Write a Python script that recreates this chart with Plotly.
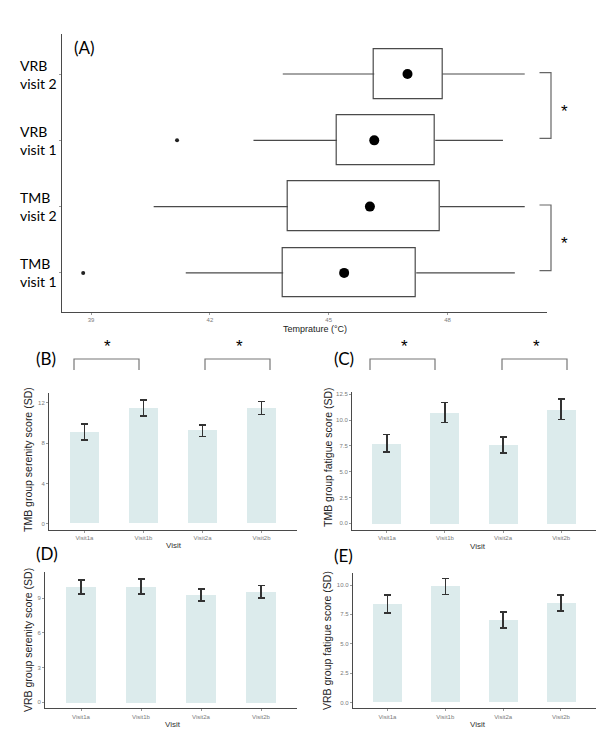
import plotly.graph_objects as go

# The page body has an 8px default margin, so the figure is sized/offset to compensate.
OFF = 8
W, H = 613 - OFF, 736 - OFF


def px(x):
    return (x - OFF) / W


def py(y):
    return 1 - (y - OFF) / H


# ---------------- Panel A data ----------------
groups = ["TMB<br>visit 1", "TMB<br>visit 2", "VRB<br>visit 1", "VRB<br>visit 2"]
group_pos = [0, 1, 2, 3]
lower_whisker = [41.39, 40.58, 43.10, 43.84]
q1 = [43.85, 43.97, 45.21, 46.15]
q3 = [47.21, 47.81, 47.69, 47.87]
upper_whisker = [49.70, 49.95, 49.40, 49.95]
mean_temp = [45.39, 46.04, 46.15, 46.99]
outlier_group = [0, 2]
outlier_temp = [38.80, 41.17]
temp_ticks = [39, 42, 45, 48]

# ---------------- Panels B-E data ----------------
visits = ["Visit1a", "Visit1b", "Visit2a", "Visit2b"]
tmb_serenity = [9.12, 11.50, 9.25, 11.50]
tmb_serenity_sd = [0.80, 0.80, 0.58, 0.63]
tmb_fatigue = [7.75, 10.72, 7.60, 11.05]
tmb_fatigue_sd = [0.85, 0.97, 0.78, 1.00]
vrb_serenity = [9.95, 10.00, 9.26, 9.54]
vrb_serenity_sd = [0.60, 0.65, 0.53, 0.52]
vrb_fatigue = [8.39, 9.86, 7.03, 8.45]
vrb_fatigue_sd = [0.77, 0.68, 0.67, 0.68]

LINE = "#4a4a4a"
BAR = "#dcebec"
TICKC = "#7a7a7a"
LABEL_FONT = "Lato, 'Open Sans', sans-serif"
SMALL_FONT = "'Liberation Sans', Arial, sans-serif"

fig = go.Figure()

# ----- Panel A: boxes -----
fig.add_trace(go.Bar(
    y=group_pos, x=[b - a for a, b in zip(q1, q3)], base=q1, orientation="h",
    width=0.75, marker=dict(color="white", line=dict(color=LINE, width=1.2)),
    xaxis="x", yaxis="y", showlegend=False, hoverinfo="skip"))
wx, wy = [], []
for i, g in enumerate(group_pos):
    wx += [lower_whisker[i], q1[i], None, q3[i], upper_whisker[i], None]
    wy += [g, g, None, g, g, None]
fig.add_trace(go.Scatter(x=wx, y=wy, mode="lines", line=dict(color=LINE, width=1.1),
                         xaxis="x", yaxis="y", showlegend=False, hoverinfo="skip"))
fig.add_trace(go.Scatter(x=mean_temp, y=group_pos, mode="markers",
                         marker=dict(color="black", size=10),
                         xaxis="x", yaxis="y", showlegend=False))
fig.add_trace(go.Scatter(x=outlier_temp, y=outlier_group, mode="markers",
                         marker=dict(color="#222", size=4),
                         xaxis="x", yaxis="y", showlegend=False))

# ----- Panels B-E: bars -----
panels = [
    ("x2", "y2", tmb_serenity, tmb_serenity_sd),
    ("x3", "y3", tmb_fatigue, tmb_fatigue_sd),
    ("x4", "y4", vrb_serenity, vrb_serenity_sd),
    ("x5", "y5", vrb_fatigue, vrb_fatigue_sd),
]
for xa, ya, vals, sds in panels:
    fig.add_trace(go.Bar(
        x=visits, y=vals, width=0.5, marker=dict(color=BAR, line=dict(width=0)),
        error_y=dict(type="data", array=sds, color="#333", thickness=1.5, width=3.5),
        xaxis=xa, yaxis=ya, showlegend=False))

axis_common = dict(showline=True, linecolor=LINE, linewidth=1, showgrid=False,
                   zeroline=False, ticks="outside", ticklen=2, tickcolor="#999",
                   tickfont=dict(size=6, color=TICKC, family=SMALL_FONT))

layout = dict(
    width=W, height=H, margin=dict(l=0, r=0, t=0, b=0),
    paper_bgcolor="white", plot_bgcolor="white", bargap=0,
    xaxis=dict(domain=[px(61.8), px(547.3)], range=[38.26, 50.52],
               tickvals=temp_ticks, anchor="y", **axis_common),
    yaxis=dict(domain=[py(312), py(34.3)], range=[-0.59, 3.60],
               tickvals=group_pos, showticklabels=False, anchor="x", **axis_common),
    xaxis2=dict(domain=[px(49), px(297)], range=[-0.6, 3.6], anchor="y2", **axis_common),
    yaxis2=dict(domain=[py(530), py(393.3)], range=[-0.62, 12.96], tickvals=[0, 4, 8, 12],
                anchor="x2", **axis_common),
    xaxis3=dict(domain=[px(352), px(596)], range=[-0.6, 3.6], anchor="y3", **axis_common),
    yaxis3=dict(domain=[py(530), py(391.7)], range=[-0.64, 12.75],
                tickvals=[0, 2.5, 5, 7.5, 10, 12.5],
                ticktext=["0.0", "2.5", "5.0", "7.5", "10.0", "12.5"],
                anchor="x3", **axis_common),
    xaxis4=dict(domain=[px(45), px(297)], range=[-0.6, 3.6], anchor="y4", **axis_common),
    yaxis4=dict(domain=[py(708.3), py(571.7)], range=[-0.52, 11.27], tickvals=[0, 3, 6, 9],
                anchor="x4", **axis_common),
    xaxis5=dict(domain=[px(352.7), px(595.7)], range=[-0.6, 3.6], anchor="y5", **axis_common),
    yaxis5=dict(domain=[py(708.3), py(573.3)], range=[-0.5, 11.0],
                tickvals=[0, 2.5, 5, 7.5, 10],
                ticktext=["0.0", "2.5", "5.0", "7.5", "10.0"],
                anchor="x5", **axis_common),
)
fig.update_layout(**layout)

ann = []
# Panel A category labels (left aligned)
for g, lab in zip(group_pos, groups):
    ann.append(dict(x=px(18), xref="paper", y=g, yref="y", text=lab, showarrow=False,
                    xanchor="left", yanchor="middle", align="left",
                    font=dict(size=14, color="black", family=LABEL_FONT)))


def text_at(txt, x, y, size, color="black", family=SMALL_FONT, angle=0):
    return dict(x=px(x), y=py(y), xref="paper", yref="paper", text=txt, showarrow=False,
                xanchor="center", yanchor="middle", textangle=angle,
                font=dict(size=size, color=color, family=family))


ann.append(text_at("Temprature (°C)", 314.7, 329, 9, "#222"))

# Panel letters
for lab, x, y in [("(A)", 84, 47), ("(B)", 46, 358), ("(C)", 344, 358),
                  ("(D)", 47, 553), ("(E)", 343, 555)]:
    ann.append(text_at(lab, x, y, 17, "black", LABEL_FONT))

# Y-axis titles for bar panels
for txt, x, y in [("TMB group serenity score (SD)", 28, 460),
                  ("TMB group fatigue score (SD)", 328, 458),
                  ("VRB group serenity score (SD)", 28, 640),
                  ("VRB group fatigue score (SD)", 327, 641)]:
    ann.append(text_at(txt, x, y, 10.5, "#222", SMALL_FONT, -90))

# X-axis titles for bar panels
for x, y in [(174, 545), (478, 546), (173, 724), (478, 724)]:
    ann.append(text_at("Visit", x, y, 8, "#333"))

# Stars
for x, y in [(107, 346), (239, 346), (405, 346), (536, 346), (564, 112), (564, 244)]:
    ann.append(text_at("*", x, y, 17))
fig.update_layout(annotations=ann)

# Significance brackets
shapes = []
for x0, x1 in [(74, 139), (205, 270), (370, 435), (502, 567)]:
    shapes.append(dict(type="path", xref="paper", yref="paper",
                       path=f"M {px(x0)} {py(370)} L {px(x0)} {py(359)} L {px(x1)} {py(359)} L {px(x1)} {py(370)}",
                       line=dict(color="#777", width=1.2)))
for y0, y1 in [(72.7, 138.3), (205, 270.7)]:
    shapes.append(dict(type="path", xref="paper", yref="paper",
                       path=f"M {px(539.5)} {py(y0)} L {px(551)} {py(y0)} L {px(551)} {py(y1)} L {px(539.5)} {py(y1)}",
                       line=dict(color="#666", width=1.2)))
fig.update_layout(shapes=shapes)

fig.write_html("out.html")
